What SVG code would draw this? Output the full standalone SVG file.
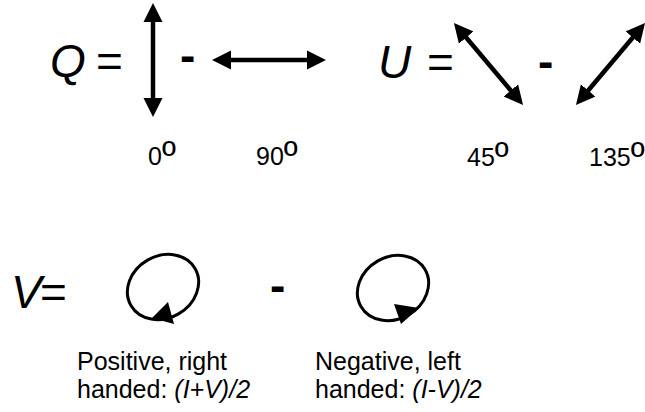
<svg xmlns="http://www.w3.org/2000/svg" width="645" height="412" viewBox="0 0 645 412">
<style>
text{font-family:"Liberation Sans",Arial,sans-serif;fill:#000}
.big{font-size:46px}
.it{font-style:italic}
.dash{font-size:46px;font-weight:bold}
.lbl{font-size:25px}
.deg{font-size:38px}
.shaft{stroke:#000;stroke-width:4.5;fill:none;marker-start:url(#ah);marker-end:url(#ah)}
.loop{stroke:#000;stroke-width:3;fill:none}
.head{fill:#000}
</style>
<defs>
<marker id="ah" viewBox="0 -10 20 20" refX="2" refY="0" markerWidth="20" markerHeight="20" markerUnits="userSpaceOnUse" orient="auto-start-reverse">
<path d="M0,-9.5 L19,0 L0,9.5 z" fill="#000"/>
</marker>
</defs>
<rect width="645" height="412" fill="#fff"/>
<g id="Q-eq">
<text class="big it" x="50" y="77">Q</text>
<text class="big" x="96" y="77">=</text>
<text class="dash" x="180" y="71">-</text>
<text class="lbl" x="148" y="165">0<tspan class="deg" dy="3">º</tspan></text>
<text class="lbl" x="256" y="165">90<tspan class="deg" dy="3">º</tspan></text>
</g>
<g id="U-eq">
<text class="big it" x="378" y="78">U</text>
<text class="big" x="427" y="78">=</text>
<text class="dash" x="538" y="77">-</text>
<text class="lbl" x="467" y="166">45<tspan class="deg" dy="3">º</tspan></text>
<text class="lbl" x="589" y="166">135<tspan class="deg" dy="3">º</tspan></text>
</g>
<g id="V-eq">
<text class="big it" x="11" y="308">V</text>
<text class="big" x="40" y="308">=</text>
<text class="dash" x="270" y="301">-</text>
</g>
<g id="positive">
<ellipse class="loop" cx="163" cy="287" rx="37" ry="31" transform="rotate(-30 163 287)"/>
<polygon class="head" points="152,318 168,302 174,324"/>
<text class="lbl" x="77" y="370">Positive, right</text>
<text class="lbl" x="77" y="398">handed: <tspan class="it">(I+V)/2</tspan></text>
</g>
<g id="negative">
<ellipse class="loop" cx="393" cy="288" rx="37" ry="31" transform="rotate(-30 393 288)"/>
<polygon class="head" points="394,304 419,308 401,324"/>
<text class="lbl" x="315" y="370">Negative, left</text>
<text class="lbl" x="315" y="398">handed: <tspan class="it">(I-V)/2</tspan></text>
</g>
<g id="connectors">
<line class="shaft" x1="153" y1="20" x2="153" y2="100"/>
<line class="shaft" x1="229" y1="60" x2="309" y2="60"/>
<line class="shaft" x1="464.9" y1="36" x2="512.1" y2="92"/>
<line class="shaft" x1="586.9" y1="92" x2="634.1" y2="36"/>
</g>
</svg>
